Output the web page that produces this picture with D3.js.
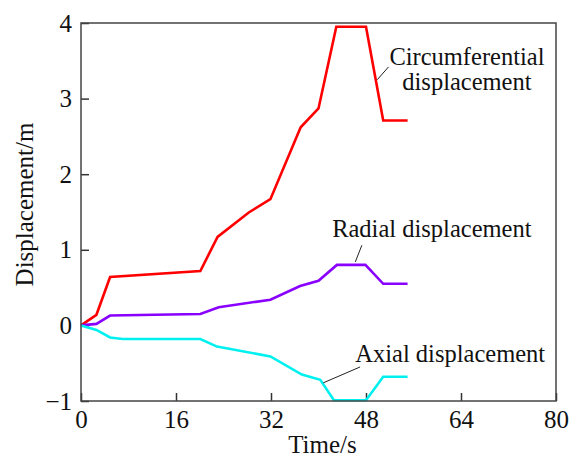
<!DOCTYPE html>
<html>
<head>
<meta charset="utf-8">
<script src="https://cdn.jsdelivr.net/npm/d3@7"></script>
<style>
  body { margin: 0; background: #fff; }
  text { font-family: "Liberation Serif", "Times New Roman", serif; fill: #111; }
</style>
</head>
<body>
<div id="chart"></div>
<script>
// time (s) and displacement (m)
var time = [0, 2.6, 4.9, 20.1, 23.0, 28.2, 31.9, 37.0, 40.0, 43.0, 48.0, 50.9, 55.0];
var circumferential = [0, 0.14, 0.64, 0.72, 1.17, 1.49, 1.67, 2.62, 2.87, 3.95, 3.95, 2.71, 2.71];

var radialTime = [0, 2.6, 4.9, 20.1, 23.2, 31.9, 36.9, 40.0, 43.1, 47.9, 50.9, 55.0];
var radial = [0, 0.02, 0.13, 0.15, 0.24, 0.34, 0.52, 0.59, 0.80, 0.80, 0.55, 0.55];

var axialTime = [0, 2.6, 4.9, 7.0, 20.1, 22.9, 31.9, 37.2, 40.3, 42.6, 48.0, 50.9, 55.0];
var axial = [0, -0.06, -0.16, -0.18, -0.18, -0.28, -0.41, -0.65, -0.72, -0.99, -0.99, -0.68, -0.68];

var xTicks = [0, 16, 32, 48, 64, 80];
var yTicks = [-1, 0, 1, 2, 3, 4];

var series = [
  { name: 'circ', t: time, v: circumferential, color: '#ff0000' },
  { name: 'radial', t: radialTime, v: radial, color: '#8a00ff' },
  { name: 'axial', t: axialTime, v: axial, color: '#00f0f0' }
];

// annotation labels, in data units
var notes = [
  { lines: ['Circumferential', 'displacement'], x: 65, y: 3.45, anchor: 'middle', from: [49.9, 3.25], to: [51.8, 3.42] },
  { lines: ['Radial displacement'], x: 42.3, y: 1.17, anchor: 'start', from: [46.2, 0.84], to: [47.3, 1.06] },
  { lines: ['Axial displacement'], x: 46.2, y: -0.48, anchor: 'start', from: [40.8, -0.76], to: [47.0, -0.55] }
];

var W = 576, H = 459;
var margin = { top: 23, left: 81, right: 20, bottom: 58 };
var w = W - margin.left - margin.right,
    h = H - margin.top - margin.bottom;

var svg = d3.select('#chart').append('svg')
    .attr('width', W)
    .attr('height', H);
var g = svg.append('g')
    .attr('transform', 'translate(' + margin.left + ',' + margin.top + ')');

var x = d3.scaleLinear().domain([0, 80]).range([0, w]);
var y = d3.scaleLinear().domain([-1, 4]).range([h, 0]);

// axes, ticks pointing inward
var xAxis = g.append('g')
    .attr('transform', 'translate(0,' + h + ')')
    .call(d3.axisBottom(x).tickValues(xTicks).tickSizeInner(-8).tickSizeOuter(0).tickPadding(9));
var yAxis = g.append('g')
    .call(d3.axisLeft(y).tickValues(yTicks).tickFormat(function(d) { return d < 0 ? '\u22121' : d; })
      .tickSizeInner(-8).tickSizeOuter(0).tickPadding(9));

[xAxis, yAxis].forEach(function(a) {
  a.select('.domain').remove();
  a.selectAll('line').attr('stroke', '#333').attr('stroke-width', 1.5);
  a.selectAll('text').style('font-size', '25px').attr('fill', '#111');
});

var line = d3.line()
    .x(function(d) { return x(d[0]); })
    .y(function(d) { return y(d[1]); });

series.forEach(function(s) {
  g.append('path')
    .datum(d3.zip(s.t, s.v))
    .attr('fill', 'none')
    .attr('stroke', s.color)
    .attr('stroke-width', 2.6)
    .attr('stroke-linejoin', 'miter')
    .attr('d', line);
});

// frame
g.append('rect')
  .attr('width', w)
  .attr('height', h)
  .attr('fill', 'none')
  .attr('stroke', '#444')
  .attr('stroke-width', 1.5);

notes.forEach(function(n) {
  g.append('line')
    .attr('x1', x(n.from[0])).attr('y1', y(n.from[1]))
    .attr('x2', x(n.to[0])).attr('y2', y(n.to[1]))
    .attr('stroke', '#222')
    .attr('stroke-width', 1);
  var t = g.append('text')
    .attr('x', x(n.x))
    .attr('y', y(n.y))
    .attr('text-anchor', n.anchor)
    .style('font-size', '24.5px');
  n.lines.forEach(function(l, i) {
    t.append('tspan')
      .attr('x', x(n.x))
      .attr('dy', i ? 25 : 0)
      .text(l);
  });
});

svg.append('text')
  .attr('x', 322.5)
  .attr('y', 453)
  .attr('text-anchor', 'middle')
  .style('font-size', '25px')
  .text('Time/s');

svg.append('text')
  .attr('transform', 'translate(33,204.5) rotate(-90)')
  .attr('text-anchor', 'middle')
  .style('font-size', '25px')
  .text('Displacement/m');
</script>
</body>
</html>
